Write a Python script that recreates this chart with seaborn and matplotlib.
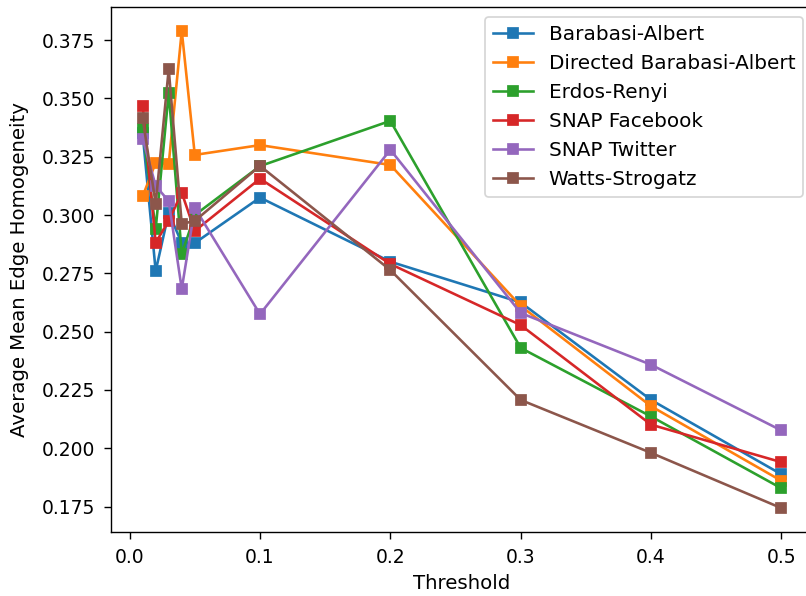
import matplotlib
matplotlib.use("Agg")
import matplotlib.pyplot as plt
from matplotlib.ticker import MultipleLocator
import seaborn as sns
import pandas as pd

thresholds = [0.01, 0.02, 0.03, 0.04, 0.05, 0.1, 0.2, 0.3, 0.4, 0.5]

barabasi_albert = [0.335, 0.276, 0.301, 0.288, 0.288, 0.3075, 0.280, 0.2625, 0.2207, 0.1888]
directed_ba = [0.308, 0.3225, 0.3218, 0.379, 0.3258, 0.330, 0.3215, 0.261, 0.218, 0.186]
erdos_renyi = [0.3368, 0.294, 0.3525, 0.2833, 0.300, 0.321, 0.3404, 0.243, 0.2136, 0.1828]
snap_facebook = [0.3468, 0.2882, 0.2975, 0.3096, 0.2932, 0.3156, 0.279, 0.2528, 0.2101, 0.194]
snap_twitter = [0.3328, 0.3125, 0.306, 0.2683, 0.3031, 0.2575, 0.328, 0.258, 0.2358, 0.2076]
watts_strogatz = [0.3416, 0.3048, 0.3626, 0.2962, 0.2975, 0.3211, 0.2764, 0.2207, 0.198, 0.1743]

series = {
    "Barabasi-Albert": barabasi_albert,
    "Directed Barabasi-Albert": directed_ba,
    "Erdos-Renyi": erdos_renyi,
    "SNAP Facebook": snap_facebook,
    "SNAP Twitter": snap_twitter,
    "Watts-Strogatz": watts_strogatz,
}

plt.rcParams.update({
    "font.size": 11.4,
    "xtick.labelsize": 10.8,
    "ytick.labelsize": 10.8,
    "xtick.major.size": 4,
    "ytick.major.size": 4,
    "xtick.major.pad": 5,
    "ytick.major.pad": 5,
})

colors = sns.color_palette("tab10", len(series))

fig = plt.figure(figsize=(806 / 125, 596 / 125), dpi=125)
ax = fig.add_axes([110.7 / 806, 64 / 596, 702.7 / 806, 525 / 596])

for (name, values), color in zip(series.items(), colors):
    df = pd.DataFrame({"Threshold": thresholds, "value": values})
    sns.lineplot(data=df, x="Threshold", y="value", ax=ax, color=color,
                 marker="s", markersize=6, markeredgecolor=color,
                 markeredgewidth=1.0, linewidth=1.5, label=name)

ax.yaxis.set_major_locator(MultipleLocator(0.025))
ax.set_xlabel("Threshold", labelpad=4)
ax.set_ylabel("Average Mean Edge Homogeneity", labelpad=7.5)
ax.legend(loc="upper right", fontsize=11.5)

fig.savefig("out.png", dpi=125)
